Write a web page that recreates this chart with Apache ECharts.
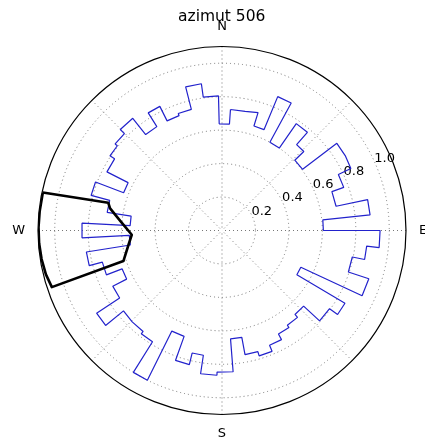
<!DOCTYPE html>
<html>
<head>
<meta charset="utf-8">
<script src="https://cdn.jsdelivr.net/npm/echarts@6/dist/echarts.min.js"></script>
<style>
  html, body { margin: 0; padding: 0; background: #ffffff; }
  #chart { width: 425px; height: 439px; }
</style>
</head>
<body>
<div id="chart"></div>
<script>
// Title and axis text
const titleText = 'azimut 506';
const compassLabels = { 0: 'N', 90: 'E', 180: 'S', 270: 'W' };
const radialTicks = [0.2, 0.4, 0.6, 0.8, 1.0];

// Azimuth histogram: bin edges in compass degrees (clockwise from N) and bin heights
const binEdges = [4, 11, 17, 22.6, 28.5, 34.8, 41, 46, 52.8, 58.7,
  64.3, 70.5, 78, 84, 90, 96.2, 101.5, 108.2, 115, 120.6,
  126, 132.8, 139, 145.4, 151.4, 157.5, 163.5, 169.5, 175.5, 182,
  188.5, 193.7, 199.7, 206.5, 212, 218, 224.5, 230.8, 236.6, 243,
  249, 255.2, 261, 267, 273, 279, 285, 291, 297, 303.7,
  309, 314.8, 321.5, 327.9, 333.4, 339.5, 345.8, 352, 358.5, 364];
const binValues = [0.725, 0.737, 0.653, 0.867, 0.600, 0.778, 0.680, 0.605, 0.862, 0.855,
  0.772, 0.697, 0.890, 0.606, 0.945, 0.870, 0.795, 0.924, 0.520, 0.854,
  0.795, 0.665, 0.688, 0.705, 0.743, 0.782, 0.755, 0.650, 0.847, 0.866,
  0.754, 0.825, 0.672, 1.000, 0.784, 0.766, 0.760, 0.898, 0.733, 0.640,
  0.740, 0.821, 0.555, 0.838, 0.550, 0.695, 0.810, 0.630, 0.772, 0.805,
  0.822, 0.857, 0.733, 0.830, 0.733, 0.747, 0.886, 0.805, 0.638];

// Selected sector outline (compass degrees, radius)
const sectorAngles = [282, 283.7, 281.2, 275, 267.3, 261.2, 252.8, 251.6, 256, 261, 266, 271, 276, 282];
const sectorRadii  = [1.095, 0.700, 0.682, 0.607, 0.540, 0.566, 0.617, 1.072, 1.085, 1.092, 1.096, 1.097, 1.096, 1.095];

// Step outline: each bin contributes its start and end edge at its height
const stepPoints = [];
for (let i = 0; i < binValues.length; i++) {
  stepPoints.push([binValues[i], binEdges[i] % 360]);
  stepPoints.push([binValues[i], binEdges[i + 1] % 360]);
}
stepPoints.push(stepPoints[0]);

const sectorPoints = sectorAngles.map((a, i) => [sectorRadii[i], a]);

const font = 'DejaVu Sans';
const gridDash = [1, 3];

const chart = echarts.init(document.getElementById('chart'), null, { renderer: 'canvas' });
chart.setOption({
  animation: false,
  backgroundColor: '#ffffff',
  title: {
    text: titleText,
    left: 178,
    top: 9,
    padding: 0,
    textStyle: { fontFamily: font, fontSize: 15.5, fontWeight: 'normal', color: '#000' }
  },
  polar: [
    // plot area
    { center: [222, 230.5], radius: 184 },
    // frame that carries the radial tick labels along a slanted ray
    { center: [231, 224.5], radius: 184 }
  ],
  angleAxis: [
    {
      polarIndex: 0, type: 'value', min: 0, max: 360, interval: 45,
      startAngle: 90, clockwise: true,
      axisLine: { show: true, lineStyle: { color: '#000', width: 1.2 } },
      axisTick: { show: false },
      axisLabel: {
        margin: 13, color: '#000', fontFamily: font, fontSize: 13,
        formatter: v => compassLabels[v] || ''
      },
      splitLine: { show: true, lineStyle: { color: '#777', width: 1, type: gridDash } }
    },
    {
      polarIndex: 1, type: 'value', min: 0, max: 360, startAngle: 23.3, show: false
    }
  ],
  radiusAxis: [
    {
      polarIndex: 0, type: 'value', min: 0, max: 1.1, interval: 0.2,
      axisLine: { show: false }, axisTick: { show: false }, axisLabel: { show: false },
      splitLine: {
        show: true,
        lineStyle: {
          color: ['#777', '#777', '#777', '#777', '#777', '#777', 'rgba(0,0,0,0)'],
          width: 1, type: gridDash
        }
      }
    },
    {
      polarIndex: 1, type: 'value', min: 0, max: 1.1, interval: 0.2,
      axisLine: { show: false }, axisTick: { show: false }, splitLine: { show: false },
      axisLabel: {
        margin: 0, align: 'center', verticalAlign: 'middle',
        color: '#000', fontFamily: font, fontSize: 13,
        formatter: v => radialTicks.some(t => Math.abs(t - v) < 1e-6) ? v.toFixed(1) : ''
      }
    }
  ],
  series: [
    {
      type: 'line', coordinateSystem: 'polar', polarIndex: 0,
      data: stepPoints, symbol: 'none', smooth: false, clip: false, silent: true,
      lineStyle: { color: '#2222cc', width: 1.2 }, z: 2
    },
    {
      type: 'line', coordinateSystem: 'polar', polarIndex: 0,
      data: sectorPoints, symbol: 'none', smooth: false, clip: false, silent: true,
      lineStyle: { color: '#000', width: 2.6, join: 'round' }, z: 3
    }
  ]
});
</script>
</body>
</html>
